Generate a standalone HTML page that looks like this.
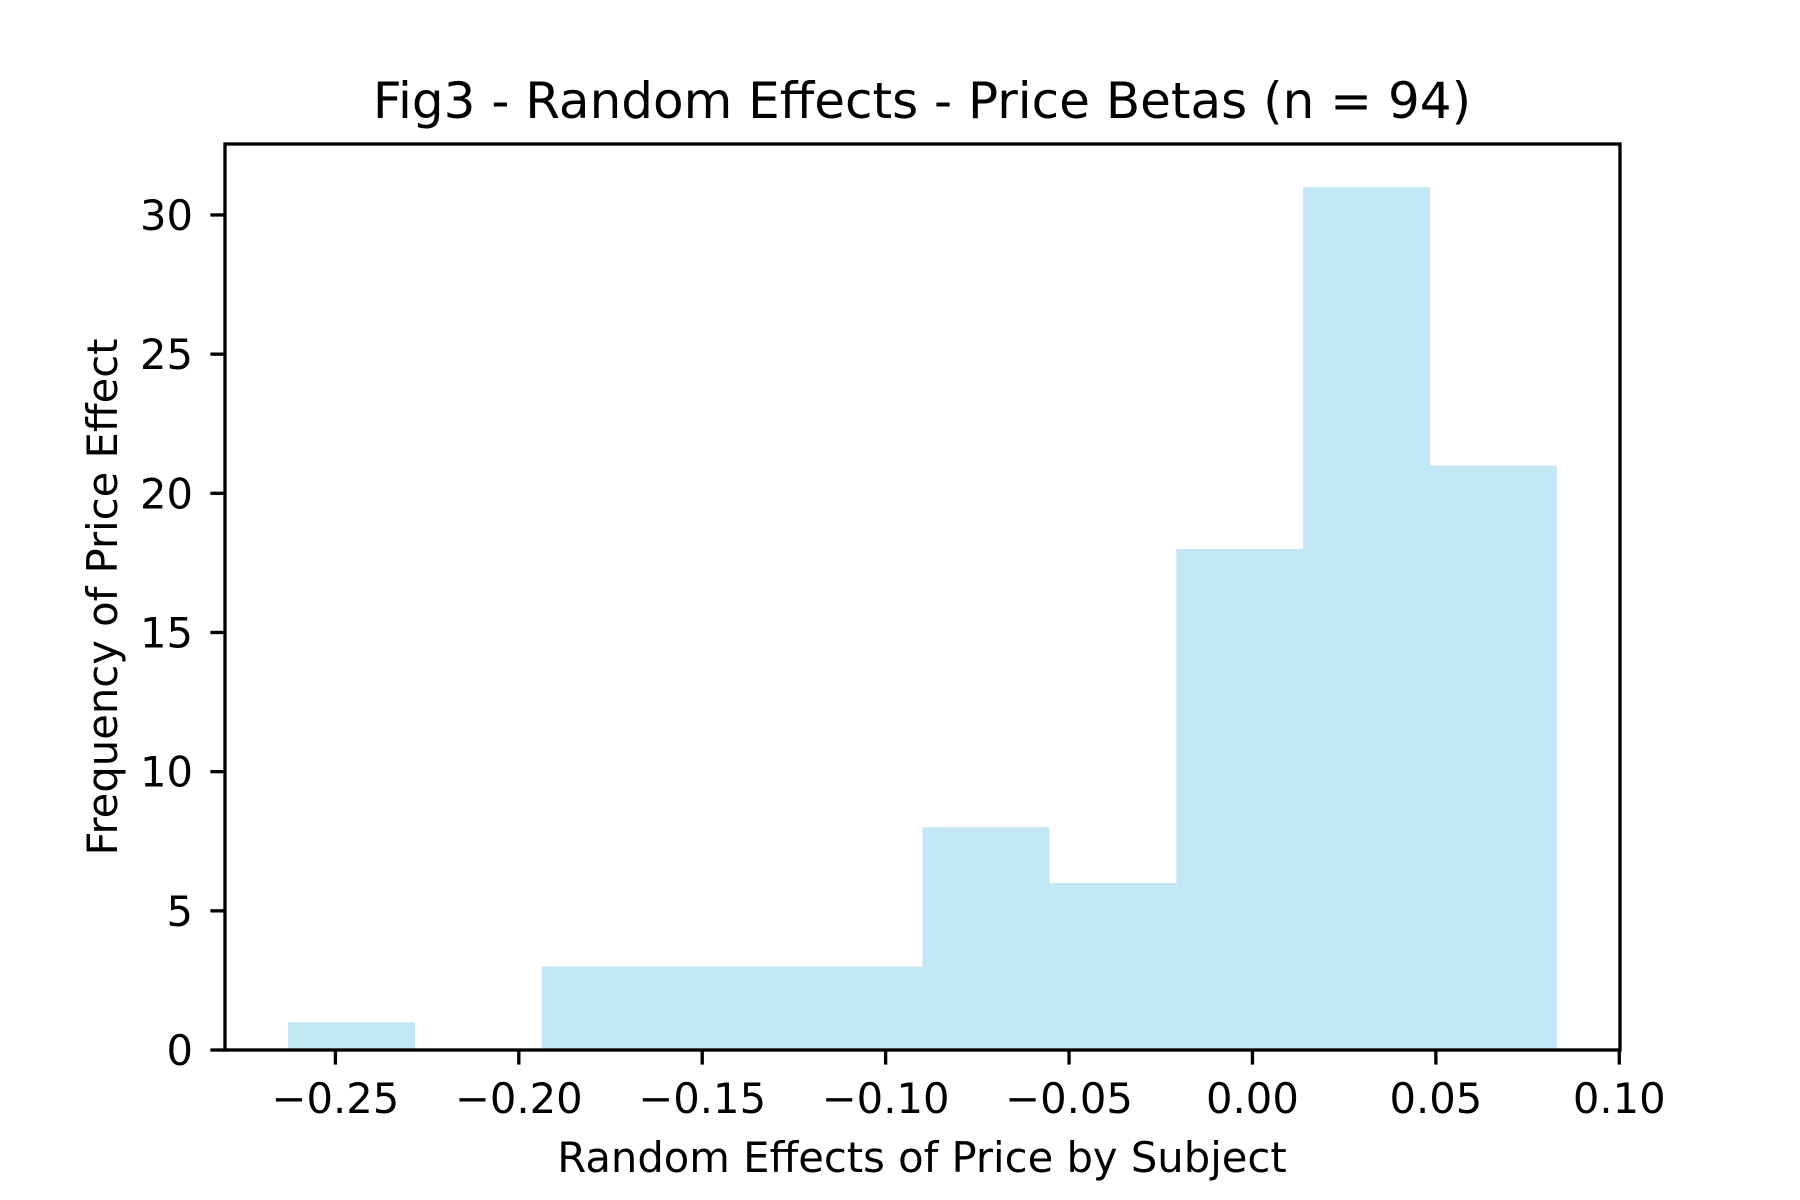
<!DOCTYPE html>
<html><head><meta charset="utf-8"><style>
html,body{margin:0;padding:0;background:#fff;}
svg{display:block;font-family:"DejaVu Sans","Liberation Sans",sans-serif;}
</style></head><body>
<svg id="chart" width="1800" height="1200" viewBox="0 0 1800 1200">
<rect x="0" y="0" width="1800" height="1200" fill="#fff"/>
<g id="bars"></g>
<g id="xticks"></g>
<g id="yticks"></g>
<rect x="225" y="144" width="1395" height="906" fill="none" stroke="#000" stroke-width="3.33"/>
<text x="922" y="118" font-size="50" text-anchor="middle" fill="#000">Fig3 - Random Effects - Price Betas (n = 94)</text>
<text x="922" y="1172" font-size="41.7" text-anchor="middle" fill="#000">Random Effects of Price by Subject</text>
<text x="0" y="0" font-size="41.7" text-anchor="middle" fill="#000" transform="translate(117,597) rotate(-90)">Frequency of Price Effect</text>
</svg>
<script>
const binStart = -0.2629;
const binWidth = 0.03459;
const counts = [1,0,3,3,3,8,6,18,31,21];
const xTickValues = [-0.25,-0.20,-0.15,-0.10,-0.05,0.00,0.05,0.10];
const xTickLabels = ["\u22120.25","\u22120.20","\u22120.15","\u22120.10","\u22120.05","0.00","0.05","0.10"];
const yTickValues = [0,5,10,15,20,25,30];
const yTickLabels = ["0","5","10","15","20","25","30"];

const L=225,R=1620,T=144,B=1050;
const xMin=-0.2801,xMax=0.1002,yMin=0,yMax=32.55;
const sx=v=>L+(v-xMin)/(xMax-xMin)*(R-L);
const sy=v=>B-(v-yMin)/(yMax-yMin)*(B-T);
const NS="http://www.w3.org/2000/svg";
const bars=document.getElementById('bars');
counts.forEach((c,i)=>{
  const x0=sx(binStart+i*binWidth), x1=sx(binStart+(i+1)*binWidth);
  const r=document.createElementNS(NS,'rect');
  r.setAttribute('x',x0);r.setAttribute('width',x1-x0);
  r.setAttribute('y',sy(c));r.setAttribute('height',sy(0)-sy(c));
  r.setAttribute('fill','rgb(195,231,245)');
  
  
  bars.appendChild(r);
});
const xt=document.getElementById('xticks');
xTickValues.forEach((v,i)=>{
  const x=sx(v);
  const l=document.createElementNS(NS,'line');
  l.setAttribute('x1',x);l.setAttribute('x2',x);l.setAttribute('y1',B);l.setAttribute('y2',B+14.6);
  l.setAttribute('stroke','#000');l.setAttribute('stroke-width','3.33');
  
  
  xt.appendChild(l);
  const t=document.createElementNS(NS,'text');
  t.setAttribute('x',x);t.setAttribute('y',B+63);t.setAttribute('font-size','41.7');
  t.setAttribute('text-anchor','middle');t.textContent=xTickLabels[i];
  
  
  xt.appendChild(t);
});
const yt=document.getElementById('yticks');
yTickValues.forEach((v,i)=>{
  const y=sy(v);
  const l=document.createElementNS(NS,'line');
  l.setAttribute('x1',L-14.6);l.setAttribute('x2',L);l.setAttribute('y1',y);l.setAttribute('y2',y);
  l.setAttribute('stroke','#000');l.setAttribute('stroke-width','3.33');
  
  
  yt.appendChild(l);
  const t=document.createElementNS(NS,'text');
  t.setAttribute('x',L-32);t.setAttribute('y',y+15);t.setAttribute('font-size','41.7');
  t.setAttribute('text-anchor','end');t.textContent=yTickLabels[i];
  
  
  yt.appendChild(t);
});
</script>
</body></html>
